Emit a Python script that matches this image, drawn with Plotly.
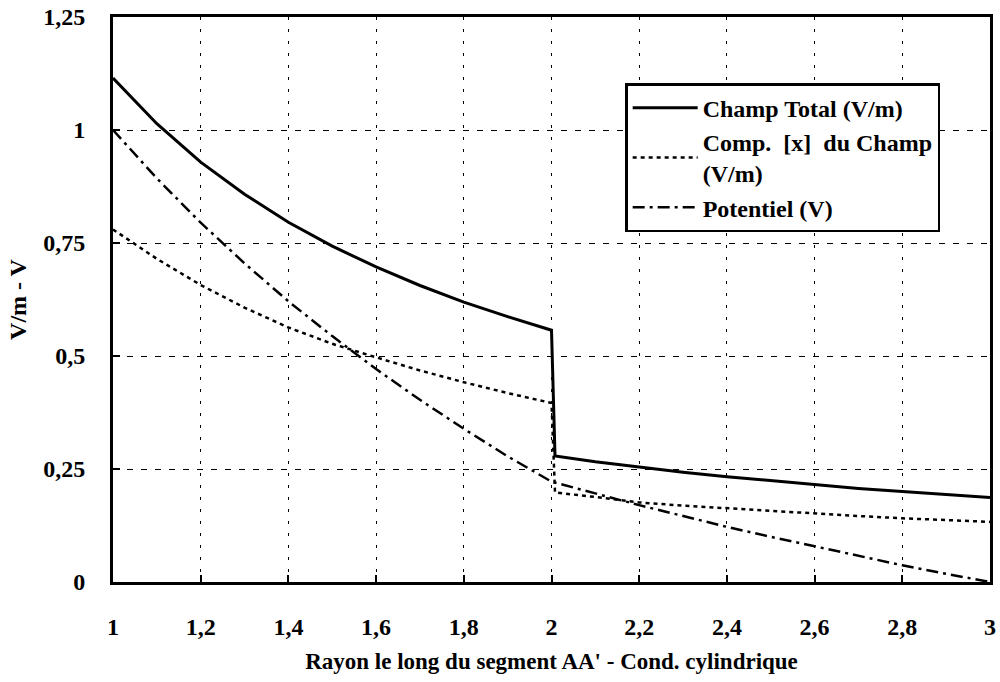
import plotly.graph_objects as go

# Data
rayon = [1.0, 1.1, 1.2, 1.3, 1.4, 1.5, 1.6, 1.7, 1.8, 1.9, 2.0,
         2.008, 2.1, 2.2, 2.3, 2.4, 2.5, 2.6, 2.7, 2.8, 2.9, 3.0]
champ_total = [1.115, 1.014, 0.929, 0.858, 0.796, 0.743, 0.697, 0.656, 0.619, 0.587, 0.557,
               0.279, 0.266, 0.254, 0.243, 0.233, 0.224, 0.215, 0.207, 0.200, 0.193, 0.187]
comp_x = [0.780, 0.715, 0.657, 0.607, 0.563, 0.527, 0.497, 0.468, 0.442, 0.418, 0.396,
          0.198, 0.188, 0.176, 0.169, 0.163, 0.157, 0.152, 0.146, 0.141, 0.137, 0.133]
potentiel = [1.000, 0.893, 0.795, 0.705, 0.621, 0.544, 0.471, 0.403, 0.339, 0.278, 0.222,
             0.220, 0.196, 0.170, 0.146, 0.122, 0.100, 0.079, 0.058, 0.037, 0.018, 0.000]

x_ticks = [1, 1.2, 1.4, 1.6, 1.8, 2, 2.2, 2.4, 2.6, 2.8, 3]
x_tick_labels = ["1", "1,2", "1,4", "1,6", "1,8", "2", "2,2", "2,4", "2,6", "2,8", "3"]
y_ticks = [0, 0.25, 0.5, 0.75, 1, 1.25]
y_tick_labels = ["0", "0,25", "0,5", "0,75", "1", "1,25"]

font_family = "Liberation Serif, Times New Roman, serif"

fig = go.Figure()
fig.add_trace(go.Scatter(x=rayon, y=champ_total, mode="lines", name="<b>Champ Total (V/m)</b>",
                         line=dict(color="black", width=3, dash="solid")))
fig.add_trace(go.Scatter(x=rayon, y=comp_x, mode="lines", name="<b>Comp.  [x]  du Champ<br>(V/m)</b>",
                         line=dict(color="black", width=2.5, dash="4px,4px")))
fig.add_trace(go.Scatter(x=rayon, y=potentiel, mode="lines", name="<b>Potentiel (V)</b>",
                         line=dict(color="black", width=2.5, dash="12px,5px,3px,5px")))

fig.update_layout(
    width=1000, height=682,
    paper_bgcolor="white", plot_bgcolor="white",
    margin=dict(l=113, r=10, t=17, b=100),
    font=dict(family=font_family, color="black", size=23),
    showlegend=True,
    legend=dict(x=0.584, y=0.883, xanchor="left", yanchor="top",
                bgcolor="white", bordercolor="black", borderwidth=2.5,
                font=dict(family=font_family, size=24, color="black"),
                itemwidth=65, tracegroupgap=0),
)
fig.update_xaxes(
    range=[1, 3], tickvals=x_ticks, ticktext=x_tick_labels,
    tickfont=dict(family=font_family, size=24, weight="bold"),
    showline=True, linecolor="black", linewidth=3, mirror=True,
    showgrid=True, gridcolor="black", gridwidth=1, griddash="3px,9px",
    ticks="inside", ticklen=7, tickcolor="black", tickwidth=2,
    ticklabelstandoff=21, zeroline=False, automargin=False,
    title=dict(text="<b>Rayon le long du segment AA' - Cond. cylindrique</b>",
               font=dict(family=font_family, size=23), standoff=15),
)
fig.update_yaxes(
    range=[0, 1.25], tickvals=y_ticks, ticktext=y_tick_labels,
    tickfont=dict(family=font_family, size=24, weight="bold"),
    showline=True, linecolor="black", linewidth=3, mirror=True,
    showgrid=True, gridcolor="black", gridwidth=1, griddash="6px,8px",
    ticks="inside", ticklen=7, tickcolor="black", tickwidth=2,
    ticklabelstandoff=20, zeroline=False, automargin=False,
    title=dict(text="<b>V/m - V</b>", font=dict(family=font_family, size=24), standoff=10),
)

# remove the default 8px page margin so the figure sits at the window origin
fig.write_html("out.html", config={"displayModeBar": False},
               post_script="document.body.style.margin='0';")
